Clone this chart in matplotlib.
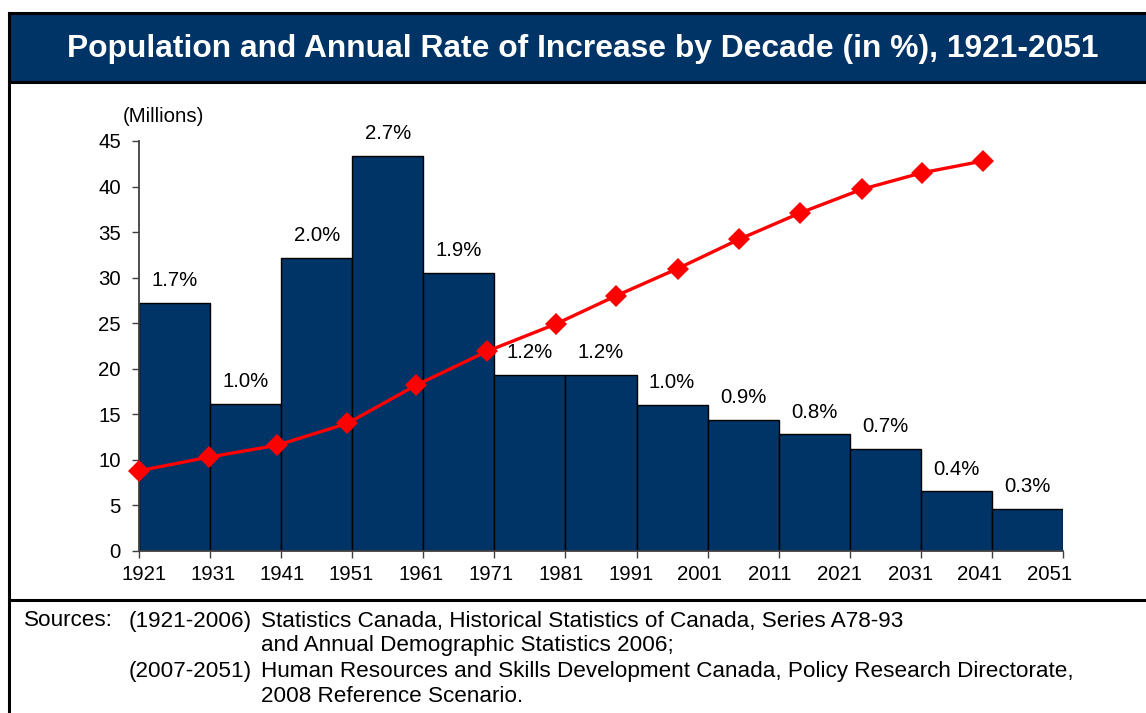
import matplotlib.pyplot as plt
from matplotlib.lines import Line2D
from matplotlib.patches import Rectangle

plt.rcParams['font.family'] = ['Liberation Sans', 'DejaVu Sans']

# --- Daten ---
years = [1921, 1931, 1941, 1951, 1961, 1971, 1981, 1991,
         2001, 2011, 2021, 2031, 2041, 2051]

# Lage der Jahresbeschriftungen unter der Achse
year_label_x = [1921.7, 1931.45, 1941.2, 1950.9, 1960.65, 1970.6, 1980.4,
                1990.3, 1999.9, 2009.8, 2019.5, 2029.5, 2039.25, 2049.05]

# jaehrliche Zuwachsrate je Dekade (in %), 1921-31 ... 2041-51
rates = [1.70, 1.01, 2.01, 2.71, 1.91, 1.21, 1.21, 1.00,
         0.90, 0.80, 0.70, 0.41, 0.29]
rate_scale = 16  # Balkenhoehe = Rate * 16 auf der Millionen-Achse

# Bevoelkerung (Mio.) und Lage der Punkte auf der Zeitachse
pop_x = [1921, 1930.8, 1940.4, 1950.3, 1960.0, 1969.9, 1979.6,
         1988.1, 1996.8, 2005.4, 2014.0, 2022.7, 2031.1, 2039.7]
population = [8.8, 10.3, 11.6, 14.0, 18.2, 21.9, 24.9,
              28.0, 31.0, 34.2, 37.1, 39.7, 41.5, 42.8]

navy = '#003366'
W, H = 1146, 713
fs = 14.7

fig = plt.figure(figsize=(W / 100, H / 100), dpi=100)

# --- Rahmen und Titelbalken ---
fig.add_artist(Rectangle((9 / W, 1 - 82 / H), 1 - 9 / W, 69 / H,
                         transform=fig.transFigure, facecolor=navy,
                         edgecolor='none'))
for xs, ys in [([9 / W, 1], [1 - 13 / H, 1 - 13 / H]),
               ([9 / W, 1], [1 - 82 / H, 1 - 82 / H]),
               ([9 / W, 1], [1 - 600 / H, 1 - 600 / H]),
               ([9 / W, 9 / W], [0, 1 - 13 / H])]:
    fig.add_artist(Line2D(xs, ys, transform=fig.transFigure,
                          color='black', linewidth=2.2))

fig.text(583 / W, 1 - 49 / H,
         'Population and Annual Rate of Increase by Decade (in %), 1921-2051',
         color='white', fontsize=22.9, fontweight='bold',
         ha='center', va='center')

# --- Diagramm ---
ax = fig.add_axes([139 / W, 1 - 551 / H, 924 / W, 410 / H])

starts = years[:-1]
widths = [b - a for a, b in zip(years[:-1], years[1:])]
heights = [r * rate_scale for r in rates]
ax.bar(starts, heights, width=widths, align='edge', color=navy,
       edgecolor='black', linewidth=1.0, zorder=2)

for x0, w, h, r in zip(starts, widths, heights, rates):
    ax.annotate(f'{r:.1f}%', (x0 + w / 2, h), xytext=(0, 16),
                textcoords='offset points', ha='center', va='center',
                fontsize=fs, color='black')

ax.plot(pop_x, population, color='#ff0000', linewidth=2.4,
        marker='D', markersize=11, markeredgewidth=0, zorder=4,
        clip_on=False)

ax.set_xlim(years[0], years[-1])
ax.set_ylim(0, 45)
ax.set_xticks(years)
ax.set_xticklabels([])
ax.set_xticks(year_label_x, [str(y) for y in years], minor=True)
ax.set_yticks(range(0, 46, 5))

for side in ['top', 'right']:
    ax.spines[side].set_visible(False)
for side in ['left', 'bottom']:
    ax.spines[side].set_color('#404040')
    ax.spines[side].set_linewidth(1.3)
ax.tick_params(axis='both', which='major', direction='out', length=5,
               width=1, color='#404040', labelsize=fs)
ax.tick_params(axis='x', which='minor', length=0, labelsize=fs, pad=10)
ax.tick_params(axis='y', pad=8)

fig.text(123 / W, 1 - 116 / H, '(Millions)', fontsize=fs,
         ha='left', va='center')

# --- Quellen ---
sfs = 16.2
src_y = [621, 646, 671, 696]
fig.text(24 / W, 1 - src_y[0] / H, 'Sources:', fontsize=sfs, va='center')
fig.text(252 / W, 1 - src_y[0] / H, '(1921-2006)', fontsize=sfs,
         va='center', ha='right')
fig.text(252 / W, 1 - src_y[2] / H, '(2007-2051)', fontsize=sfs,
         va='center', ha='right')
src_lines = ['Statistics Canada, Historical Statistics of Canada, Series A78-93',
             'and Annual Demographic Statistics 2006;',
             'Human Resources and Skills Development Canada, Policy Research Directorate,',
             '2008 Reference Scenario.']
for y, line in zip(src_y, src_lines):
    fig.text(261 / W, 1 - y / H, line, fontsize=sfs, va='center')

fig.savefig('out.png', dpi=100)
